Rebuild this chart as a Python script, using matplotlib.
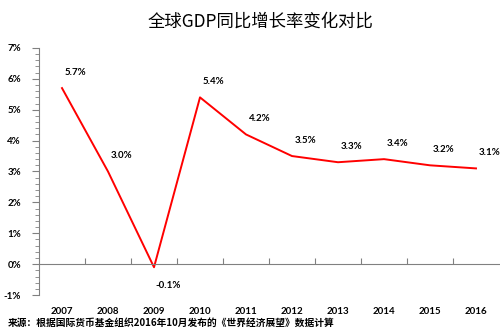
import matplotlib
matplotlib.use("Agg")
import matplotlib.pyplot as plt
from matplotlib.ticker import MultipleLocator, FuncFormatter
import matplotlib.transforms as mtransforms

years = ["2007", "2008", "2009", "2010", "2011", "2012", "2013", "2014", "2015", "2016"]
growth = [5.7, 3.0, -0.1, 5.4, 4.2, 3.5, 3.3, 3.4, 3.2, 3.1]
title = "全球GDP同比增长率变化对比"
source = "来源：根据国际货币基金组织2016年10月发布的《世界经济展望》数据计算"

cjk = ["Noto Sans CJK SC", "DejaVu Sans"]
num = ["Lato", "DejaVu Sans"]

fig = plt.figure(figsize=(5, 3.33), dpi=100)
ax = fig.add_axes([0.078, 0.114, 0.92, 0.742])

x = list(range(len(years)))
ax.plot(x, growth, color="#ff0000", lw=1.4)

ax.set_xlim(-0.5, len(years) - 0.5)
ax.set_ylim(-1, 7)

for s in ["top", "right"]:
    ax.spines[s].set_visible(False)
ax.spines["left"].set_color("#808080")
ax.spines["bottom"].set_color("#808080")
ax.spines["bottom"].set_position(("data", 0))

ax.yaxis.set_major_locator(MultipleLocator(1))
ax.yaxis.set_minor_locator(MultipleLocator(0.2))
ax.yaxis.set_major_formatter(FuncFormatter(lambda v, p: f"{v:.0f}%"))
ax.tick_params(axis="y", which="major", length=5, color="#808080", labelsize=7, pad=8)
ax.tick_params(axis="y", which="minor", length=3, color="#808080")
for lab in ax.get_yticklabels():
    lab.set_fontweight("bold")
    lab.set_family(num)

ax.set_xticks([i + 0.5 for i in x[:-1]])
ax.set_xticklabels([])
ax.tick_params(axis="x", direction="in", length=4, color="#808080")

trans = mtransforms.blended_transform_factory(ax.transData, ax.transAxes)
for i, y in zip(x, years):
    ax.text(i, -0.05, y, transform=trans, ha="center", va="top",
            fontsize=7, fontweight="bold", family=num)

for i, v in zip(x, growth):
    if v < 0:
        off = (10, -10)
        va = "top"
    else:
        off = (10, 8)
        va = "bottom"
    ax.annotate(f"{v:.1f}%", (i, v), xytext=off, textcoords="offset points",
                ha="center", va=va, fontsize=7, fontweight="bold", family=num)

fig.text(0.52, 0.935, title, ha="center", va="center", fontsize=12.5, family=cjk)
fig.text(0.016, 0.03, source, ha="left", va="center", fontsize=7, fontweight="bold", family=cjk)

fig.savefig("out.png", dpi=100)
